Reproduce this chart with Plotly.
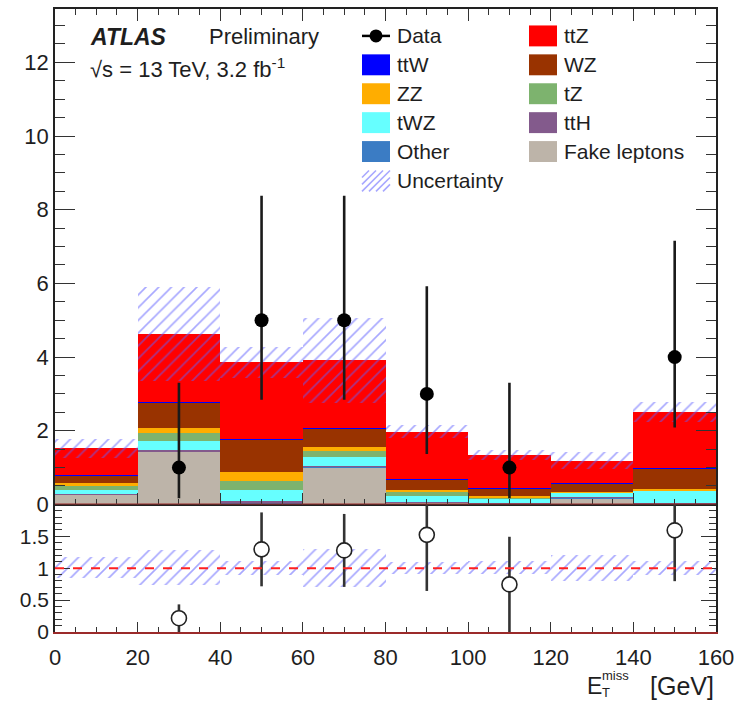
import numpy as np
import plotly.graph_objects as go

# ---------------- data ----------------
bin_centers = [10, 30, 50, 70, 90, 110, 130, 150]
bin_width = 20

fake = [0.26, 1.43, 0.02, 1.01, 0.05, 0.02, 0.17, 0.02]
other = [0.01, 0.01, 0.04, 0.01, 0.01, 0.01, 0.01, 0.01]
tth = [0.02, 0.03, 0.02, 0.03, 0.01, 0.01, 0.01, 0.01]
twz = [0.11, 0.25, 0.32, 0.25, 0.15, 0.11, 0.12, 0.33]
tz = [0.09, 0.21, 0.24, 0.15, 0.11, 0.05, 0.02, 0.01]
zz = [0.085, 0.15, 0.23, 0.12, 0.07, 0.04, 0.02, 0.04]
wz = [0.205, 0.68, 0.88, 0.49, 0.27, 0.18, 0.22, 0.55]
ttw = [0.02, 0.02, 0.02, 0.02, 0.02, 0.02, 0.02, 0.03]
ttz = [0.72, 1.84, 2.09, 1.83, 1.28, 0.90, 0.60, 1.51]
mc_unc = [0.25, 1.27, 0.42, 1.15, 0.18, 0.14, 0.24, 0.27]

data = [0, 1, 5, 5, 3, 1, 0, 4]
data_err_lo = [0, 0.83, 2.16, 2.16, 1.63, 0.83, 0, 1.91]
data_err_hi = [0, 2.30, 3.38, 3.38, 2.92, 2.30, 0, 3.16]

x_ticks = [0, 20, 40, 60, 80, 100, 120, 140, 160]
y_ticks = [0, 2, 4, 6, 8, 10, 12]
r_ticks = [0, 0.5, 1, 1.5]
r_tick_text = ["0", "0.5", "1", "1.5"]

# stack from bottom to top: (name, values, color)
stack = [
    ("Fake leptons", fake, "#bdb4a9"),
    ("Other", other, "#3b7cc4"),
    ("ttH", tth, "#835a8c"),
    ("tWZ", twz, "#66ffff"),
    ("tZ", tz, "#7db36e"),
    ("ZZ", zz, "#ffad00"),
    ("WZ", wz, "#993300"),
    ("ttW", ttw, "#0000ff"),
    ("ttZ", ttz, "#ff0000"),
]
HATCH = "rgba(95,95,255,0.55)"
FONT = "Liberation Sans, Arial, sans-serif"
TXT = "#1e1e1e"

fig = go.Figure()

# ---------------- stacked histogram ----------------
base = np.zeros(len(bin_centers))
for name, vals, col in stack:
    v = np.array(vals, dtype=float)
    fig.add_trace(go.Bar(
        x=bin_centers, y=v, base=base.copy(), width=bin_width,
        marker=dict(color=col, line=dict(width=0)),
        name=name, showlegend=False, xaxis="x", yaxis="y"))
    base = base + v
total = base
unc = np.array(mc_unc)

# uncertainty band (main)
fig.add_trace(go.Bar(
    x=bin_centers, y=2 * unc, base=total - unc, width=bin_width,
    marker=dict(color="rgba(0,0,0,0)", line=dict(width=0),
                pattern=dict(shape="/", fgcolor=HATCH, bgcolor="rgba(0,0,0,0)",
                             size=9, solidity=0.18, fillmode="replace")),
    showlegend=False, xaxis="x", yaxis="y"))

# data points (main)
d = np.array(data, dtype=float)
m = d > 0
xc = np.array(bin_centers)
fig.add_trace(go.Scatter(
    x=xc[m], y=d[m], mode="markers",
    marker=dict(color="black", size=14, symbol="circle"),
    error_y=dict(type="data", symmetric=False,
                 array=np.array(data_err_hi)[m], arrayminus=np.array(data_err_lo)[m],
                 color="#1a1a1a", thickness=2.6, width=0),
    showlegend=False, xaxis="x", yaxis="y"))

# ---------------- ratio panel ----------------
rel = unc / total
fig.add_trace(go.Bar(
    x=bin_centers, y=2 * rel, base=1 - rel, width=bin_width,
    marker=dict(color="rgba(0,0,0,0)", line=dict(width=0),
                pattern=dict(shape="/", fgcolor=HATCH, bgcolor="rgba(0,0,0,0)",
                             size=9, solidity=0.18, fillmode="replace")),
    showlegend=False, xaxis="x2", yaxis="y2"))

ratio = d / total
ratio_err = np.sqrt(d) / total
fig.add_trace(go.Scatter(
    x=xc[m], y=ratio[m], mode="markers",
    marker=dict(color="white", size=15, symbol="circle",
                line=dict(color="#222", width=1.6)),
    error_y=dict(type="data", symmetric=False,
                 array=ratio_err[m], arrayminus=np.minimum(ratio_err, ratio)[m],
                 color="#333", thickness=2.6, width=0),
    showlegend=False, xaxis="x2", yaxis="y2"))

# ---------------- layout ----------------
W, H = 741, 701
PL, PR, PT, PB = 55, 716, 7, 632
split = (PB - 504) / (PB - PT)


def fx(px):
    return (px - PL) / (PR - PL)


def fy(py):
    return (PB - py) / (PB - PT)


tickfont = dict(family=FONT, size=22, color=TXT)
common_axis = dict(showgrid=False, zeroline=False, showline=True,
                   linewidth=1.6, ticks="inside", tickwidth=1.4, tickcolor="#333")

fig.update_layout(
    width=W, height=H,
    margin=dict(l=PL, r=W - PR, t=PT, b=H - PB, pad=0),
    paper_bgcolor="white", plot_bgcolor="white",
    barmode="overlay", bargap=0, showlegend=False,
    xaxis=dict(domain=[0, 1], anchor="y", range=[0, 160], tickvals=x_ticks,
               showticklabels=False, linecolor="#222", mirror="ticks", ticklen=12,
               minor=dict(dtick=5, tick0=0, ticklen=6, ticks="inside", tickcolor="#333", tickwidth=1.2),
               **common_axis),
    yaxis=dict(domain=[split, 1], anchor="x", range=[0, 13.45], tickvals=y_ticks,
               ticktext=[str(t) for t in y_ticks], tickfont=tickfont,
               linecolor="#222", mirror="ticks", ticklen=20, ticklabelstandoff=0,
               minor=dict(dtick=0.5, tick0=0, ticklen=10, ticks="inside", tickcolor="#333", tickwidth=1.2),
               **common_axis),
    xaxis2=dict(domain=[0, 1], anchor="y2", matches="x", range=[0, 160], tickvals=x_ticks,
                ticktext=[str(t) for t in x_ticks], tickfont=tickfont,
                linecolor="#9b2a2a", mirror=False, ticklen=10, ticklabelstandoff=5,
                minor=dict(dtick=5, tick0=0, ticklen=5, ticks="inside", tickcolor="#333", tickwidth=1.2),
                **common_axis),
    yaxis2=dict(domain=[0, split], anchor="x2", range=[0, 2.0], tickvals=r_ticks,
                ticktext=r_tick_text, tickfont=dict(family=FONT, size=21, color=TXT),
                linecolor="#222", mirror="ticks", ticklen=15, ticklabelstandoff=0,
                minor=dict(dtick=0.1, tick0=0, ticklen=7, ticks="inside", tickcolor="#333", tickwidth=1.1),
                **common_axis),
)

shapes = []
annotations = []

# red axis line at the bottom of the main panel
shapes.append(dict(type="line", xref="x domain", yref="y", x0=0, x1=1, y0=0, y1=0,
                   line=dict(color="#9b2a2a", width=1.6), layer="above"))
# ratio reference line
shapes.append(dict(type="line", xref="x2 domain", yref="y2", x0=0, x1=1, y0=1, y1=1,
                   line=dict(color="#ff2020", width=2, dash="dash"), layer="above"))

# ATLAS label
annotations.append(dict(xref="paper", yref="paper", x=fx(88), y=fy(35), xanchor="left", yanchor="middle",
                        text="<b><i>ATLAS</i></b>", showarrow=False,
                        font=dict(family=FONT, size=23, color=TXT)))
annotations.append(dict(xref="paper", yref="paper", x=fx(207), y=fy(35), xanchor="left", yanchor="middle",
                        text="Preliminary", showarrow=False,
                        font=dict(family=FONT, size=22, color=TXT)))
annotations.append(dict(xref="paper", yref="paper", x=fx(88), y=fy(66), xanchor="left", yanchor="middle",
                        text="√s = 13 TeV, 3.2 fb<sup>-1</sup>", showarrow=False,
                        font=dict(family=FONT, size=22, color=TXT)))

# legend (two columns, drawn manually)
legend_left = [("Data", None), ("ttW", "#0000ff"), ("ZZ", "#ffad00"), ("tWZ", "#66ffff"),
               ("Other", "#3b7cc4"), ("Uncertainty", "hatch")]
legend_right = [("ttZ", "#ff0000"), ("WZ", "#993300"), ("tZ", "#7db36e"), ("ttH", "#835a8c"),
                ("Fake leptons", "#bdb4a9")]
row_y = [34, 63, 92, 121, 150, 179.5]
bw, bh = 28, 21


def add_entry(xbox, ycen, label, kind):
    if kind is None:
        shapes.append(dict(type="line", xref="paper", yref="paper",
                           x0=fx(xbox), x1=fx(xbox + bw), y0=fy(ycen), y1=fy(ycen),
                           line=dict(color="black", width=2.5)))
        r = 6.5
        cx = xbox + bw / 2
        shapes.append(dict(type="circle", xref="paper", yref="paper",
                           x0=fx(cx - r), x1=fx(cx + r), y0=fy(ycen + r), y1=fy(ycen - r),
                           fillcolor="black", line=dict(color="black", width=0)))
    elif kind == "hatch":
        x0, x1 = xbox, xbox + bw
        ytop, ybot = ycen - bh / 2, ycen + bh / 2
        for k in range(-4, 6):
            sx, sy = x0 + k * 7, ybot
            ex, ey = sx + bh, ytop
            if sx < x0:
                sy = sy - (x0 - sx)
                sx = x0
            if ex > x1:
                ey = ey + (ex - x1)
                ex = x1
            if sx >= ex:
                continue
            shapes.append(dict(type="line", xref="paper", yref="paper",
                               x0=fx(sx), x1=fx(ex), y0=fy(sy), y1=fy(ey),
                               line=dict(color=HATCH, width=1.6)))
    else:
        shapes.append(dict(type="rect", xref="paper", yref="paper",
                           x0=fx(xbox), x1=fx(xbox + bw), y0=fy(ycen + bh / 2), y1=fy(ycen - bh / 2),
                           fillcolor=kind, line=dict(width=0)))
    annotations.append(dict(xref="paper", yref="paper", x=fx(xbox + bw + 5), y=fy(ycen),
                            xanchor="left", yanchor="middle", text=label, showarrow=False,
                            font=dict(family=FONT, size=21, color=TXT)))


for (lab, kind), yy in zip(legend_left, row_y):
    add_entry(362, yy, lab, kind)
for (lab, kind), yy in zip(legend_right, row_y):
    add_entry(529, yy, lab, kind)

# x axis title  E_T^miss [GeV]
annotations.append(dict(xref="paper", yref="paper", x=fx(585), y=fy(686), xanchor="left", yanchor="middle",
                        text="E", showarrow=False, font=dict(family=FONT, size=23, color=TXT)))
annotations.append(dict(xref="paper", yref="paper", x=fx(600), y=fy(684), xanchor="left", yanchor="middle",
                        align="left", text="miss<br>T", showarrow=False,
                        font=dict(family=FONT, size=13, color=TXT)))
annotations.append(dict(xref="paper", yref="paper", x=fx(716), y=fy(686), xanchor="right", yanchor="middle",
                        text="[GeV]", showarrow=False, font=dict(family=FONT, size=25, color=TXT)))

fig.update_layout(shapes=shapes, annotations=annotations)

fig.write_html("out.html")
